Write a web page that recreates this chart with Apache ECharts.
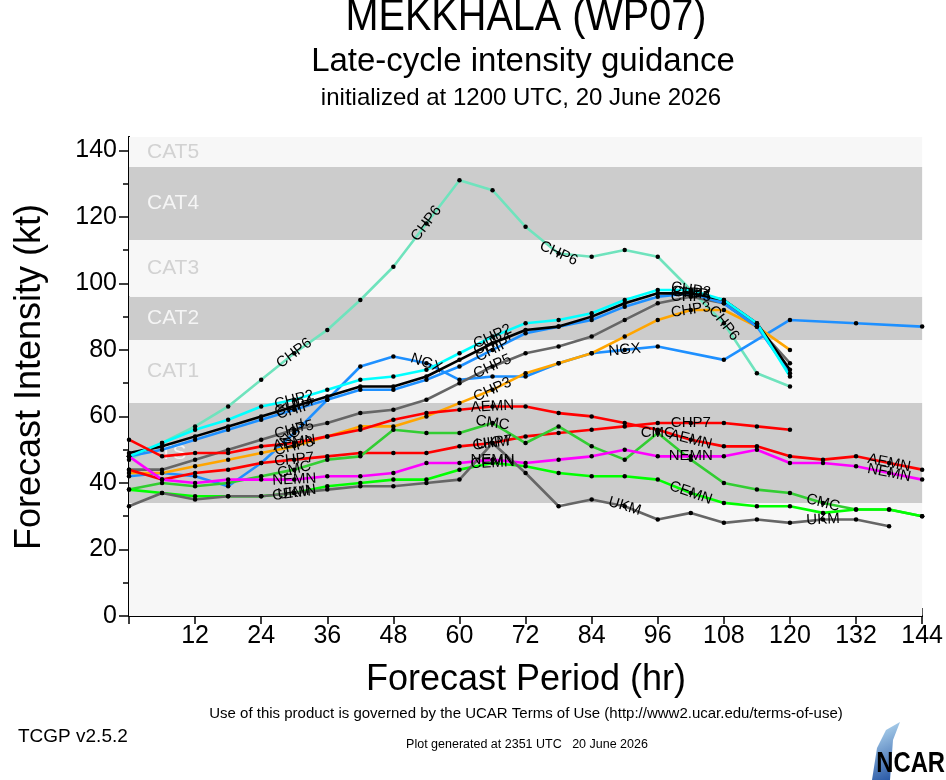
<!DOCTYPE html>
<html>
<head>
<meta charset="utf-8">
<script src="https://cdn.jsdelivr.net/npm/echarts@6/dist/echarts.min.js"></script>
<style>
  html, body { margin: 0; padding: 0; background: #fff; }
  #chart { width: 946px; height: 780px; }
</style>
</head>
<body>
<div id="chart"></div>
<script>
// forecast hours (every 6 h)
var hours = [0, 6, 12, 18, 24, 30, 36, 42, 48, 54, 60, 66, 72, 78, 84, 90, 96, 102, 108, 114, 120, 126, 132, 138, 144];

// intensity (kt) per model
var chp2 = [48, 52, 56, 59, 63, 65, 68, 71, 72, 74, 79, 84, 88, 89, 91, 95, 98, 98, 95, 88, 72];
var chp4 = [49, 51, 54, 57, 60, 63, 66, 69, 69, 72, 77, 82, 86, 87, 90, 94, 97, 97, 95, 88, 74];
var chip = [48, 50, 53, 56, 59, 62, 65, 68, 68, 71, 75, 80, 85, 87, 89, 93, 96, 97, 94, 87, 73];
var chp5 = [44, 44, 47, 50, 53, 56, 58, 61, 62, 65, 70, 75, 79, 81, 84, 89, 94, 96, 94, 87, 76];
var chp3 = [43, 43, 45, 47, 49, 51, 54, 57, 57, 60, 64, 68, 73, 76, 79, 84, 89, 92, 92, 87, 80];
var chp6 = [47, 52, 57, 63, 71, 79, 86, 95, 105, 118, 131, 128, 117, 109, 108, 110, 108, 98, 88, 73, 69];
var chp7 = [44, 41, 43, 44, 46, 47, 48, 49, 49, 49, 51, 52, 54, 55, 56, 57, 58, 58, 58, 57, 56];
var aemn = [53, 48, 49, 49, 51, 52, 54, 56, 59, 61, 62, 63, 63, 61, 60, 58, 56, 53, 51, 51, 48, 47, 48, 46, 44];
var nemn = [48, 41, 40, 41, 41, 41, 42, 42, 43, 46, 46, 47, 46, 47, 48, 50, 48, 48, 48, 50, 46, 46, 45, 43, 41];
var cmc  = [38, 40, 39, 40, 42, 44, 47, 48, 56, 55, 55, 58, 52, 57, 51, 47, 55, 47, 40, 38, 37, 34, 32, 32, 30];
var cemn = [38, 37, 36, 36, 36, 37, 39, 40, 41, 41, 44, 46, 45, 43, 42, 42, 41, 37, 34, 33, 33, 31, 32, 32, 30];
var ukm  = [33, 37, 35, 36, 36, 37, 38, 39, 39, 40, 41, 52, 43, 33, 35, 33, 29, 31, 28, 29, 28, 29, 29, 27];
var ngx  = [42, 43, 42, 39, 46, 55, 65, 75, 78, 76, 71, 72, 72, 76, 79, 80, 81, null, 77, null, 89, null, 88, null, 87];

// Saffir-Simpson bands
var bandEdges = [0, 34, 64, 83, 96, 113, 135, 144];
var bandNames = ['', 'TS', 'CAT1', 'CAT2', 'CAT3', 'CAT4', 'CAT5'];
var yTicks = [0, 20, 40, 60, 80, 100, 120, 140];

var FONT = '"Liberation Sans", Arial, Helvetica, sans-serif';
var LIGHT = '#f7f7f7', DARK = '#cccccc';

var models = [
  { name: 'CHP6', vals: chp6, color: '#6fe3bd', labels: [30, 54, 78, 108] },
  { name: 'NGX',  vals: ngx,  color: '#1e90ff', labels: [30, 54, 90, 126] },
  { name: 'CHP3', vals: chp3, color: '#ffa500', labels: [30, 66, 102] },
  { name: 'CHP5', vals: chp5, color: '#666666', labels: [30, 66, 102] },
  { name: 'CHIP', vals: chip, color: '#1e90ff', labels: [30, 66, 102] },
  { name: 'CHP4', vals: chp4, color: '#000000', labels: [30, 66, 102] },
  { name: 'CHP2', vals: chp2, color: '#00ffff', labels: [30, 66, 102] },
  { name: 'AEMN', vals: aemn, color: '#ff0000', labels: [30, 66, 102, 138] },
  { name: 'CHP7', vals: chp7, color: '#ff0000', labels: [30, 66, 102] },
  { name: 'CMC',  vals: cmc,  color: '#32cd32', labels: [30, 66, 96, 126] },
  { name: 'NEMN', vals: nemn, color: '#ff00ff', labels: [30, 66, 102, 138] },
  { name: 'CEMN', vals: cemn, color: '#00ff00', labels: [30, 66, 102] },
  { name: 'UKM',  vals: ukm,  color: '#666666', labels: [30, 66, 90, 126] }
];

function points(m) {
  var p = [];
  m.vals.forEach(function (v, i) { if (v !== null && v !== undefined) p.push([hours[i], v]); });
  return p;
}

function buildSeries(angles) {
  var list = [];
  // band backgrounds
  var areas = [];
  for (var i = 0; i < bandEdges.length - 1; i++) {
    areas.push([
      { yAxis: bandEdges[i], itemStyle: { color: i % 2 ? DARK : LIGHT } },
      { yAxis: bandEdges[i + 1] }
    ]);
  }
  list.push({
    type: 'line', data: [], z: 1, silent: true,
    markArea: { silent: true, data: areas, label: { show: false } }
  });
  // band names
  var bl = [];
  for (var j = 1; j < bandNames.length; j++) {
    bl.push({
      value: [8, (bandEdges[j] + bandEdges[j + 1]) / 2],
      label: { formatter: bandNames[j], color: j % 2 ? '#ffffff' : '#c8c8c8' }
    });
  }
  list.push({
    type: 'scatter', data: bl, z: 2, silent: true, symbolSize: 1,
    itemStyle: { color: 'rgba(0,0,0,0)' },
    label: { show: true, position: 'inside', fontSize: 21, fontFamily: FONT }
  });
  // model lines
  models.forEach(function (m, k) {
    var data = points(m).map(function (p) {
      var item = { value: p };
      if (m.labels.indexOf(p[0]) >= 0) {
        item.label = {
          show: true, formatter: m.name,
          rotate: angles ? angles[k][p[0]] : 0
        };
      }
      return item;
    });
    list.push({
      type: 'line', name: m.name, data: data, z: 3,
      symbol: 'circle', symbolSize: 4.5, showSymbol: true,
      itemStyle: { color: '#000' },
      lineStyle: { color: m.color, width: 2.6 },
      label: { show: false, position: 'inside', color: '#000', fontSize: 15, fontFamily: FONT },
      animation: false
    });
  });
  return list;
}

function txt(x, y, s, size, align, extra, weight) {
  var o = {
    type: 'text', x: x, y: y, silent: true,
    style: {
      text: s, fill: '#000', font: (weight ? weight + ' ' : '') + size + 'px ' + FONT,
      textAlign: align || 'center', textVerticalAlign: 'middle',
      align: align || 'center', verticalAlign: 'middle'
    }
  };
  if (extra) for (var key in extra) o[key] = extra[key];
  return o;
}

var dom = document.getElementById('chart');
var myChart = echarts.init(dom, null, { renderer: 'canvas' });

var axisLine = { show: true, lineStyle: { color: '#000', width: 2 } };

var option = {
  animation: false,
  backgroundColor: '#ffffff',
  grid: { left: 129, right: 23, top: 137, bottom: 164 },
  xAxis: [
    {
      type: 'value', min: 0, max: 144, interval: 12, position: 'bottom',
      axisLine: axisLine,
      axisTick: { show: true, length: 8, lineStyle: { color: '#000', width: 1.5 } },
      axisLabel: {
        color: '#000', fontSize: 25, fontFamily: FONT, margin: 8,
        formatter: function (v) { return v === 0 ? '' : v; }
      },
      splitLine: { show: false }
    },
    {
      type: 'value', min: 0, max: 144, interval: 12, position: 'top',
      axisLine: axisLine,
      axisTick: { show: true, length: 8, lineStyle: { color: '#000', width: 1.5 } },
      axisLabel: { show: false },
      splitLine: { show: false }
    }
  ],
  yAxis: [
    {
      type: 'value', min: 0, max: 144, interval: 20, position: 'left',
      axisLine: axisLine,
      axisTick: { show: true, length: 10, customValues: yTicks, lineStyle: { color: '#000', width: 1.5 } },
      minorTick: { show: true, splitNumber: 2, length: 6, lineStyle: { color: '#000', width: 1.5 } },
      axisLabel: { color: '#000', fontSize: 25, fontFamily: FONT, margin: 12, showMaxLabel: false },
      splitLine: { show: false }
    },
    {
      type: 'value', min: 0, max: 144, interval: 20, position: 'right',
      axisLine: axisLine,
      axisTick: { show: true, length: 16, customValues: yTicks, lineStyle: { color: '#000', width: 1.5 } },
      minorTick: { show: true, splitNumber: 2, length: 8, lineStyle: { color: '#000', width: 1.5 } },
      axisLabel: { show: false },
      splitLine: { show: false }
    }
  ],
  graphic: [
    txt(526, 18, 'MEKKHALA (WP07)', 44, 'center', { scaleX: 0.9 }),
    txt(523, 62, 'Late-cycle intensity guidance', 33),
    txt(521, 98, 'initialized at 1200 UTC, 20 June 2026', 24),
    txt(30, 377, 'Forecast Intensity (kt)', 36, 'center', { rotation: Math.PI / 2 }),
    txt(526, 680, 'Forecast Period (hr)', 36),
    txt(526, 714, 'Use of this product is governed by the UCAR Terms of Use (http://www2.ucar.edu/terms-of-use)', 15),
    txt(18, 737, 'TCGP v2.5.2', 19, 'left'),
    txt(527, 745, 'Plot generated at 2351 UTC   20 June 2026', 12.5),
    {
      type: 'polygon', silent: true,
      shape: { points: [[872, 780], [877, 748], [886, 730], [900, 722], [893, 740], [890, 780]] },
      style: { fill: new echarts.graphic.LinearGradient(0, 0, 1, 1, [
        { offset: 0, color: '#bfe3f7' }, { offset: 1, color: '#1f4fa0' }]) }
    },
    txt(945, 764, 'NCAR', 29, 'right', { scaleX: 0.82 }, 'bold')
  ],
  series: buildSeries(null)
};

myChart.setOption(option);

// align line labels with the local direction of each line
var angles = models.map(function (m) {
  var pts = points(m), out = {};
  m.labels.forEach(function (h) {
    var j = pts.findIndex(function (p) { return p[0] === h; });
    if (j < 0) return;
    var a = pts[Math.max(j - 1, 0)], b = pts[Math.min(j + 1, pts.length - 1)];
    var pa = myChart.convertToPixel('grid', a), pb = myChart.convertToPixel('grid', b);
    out[h] = Math.atan2(pa[1] - pb[1], pb[0] - pa[0]) * 180 / Math.PI;
  });
  return out;
});
myChart.setOption({ series: buildSeries(angles) });

window.addEventListener('resize', myChart.resize);
</script>
</body>
</html>
